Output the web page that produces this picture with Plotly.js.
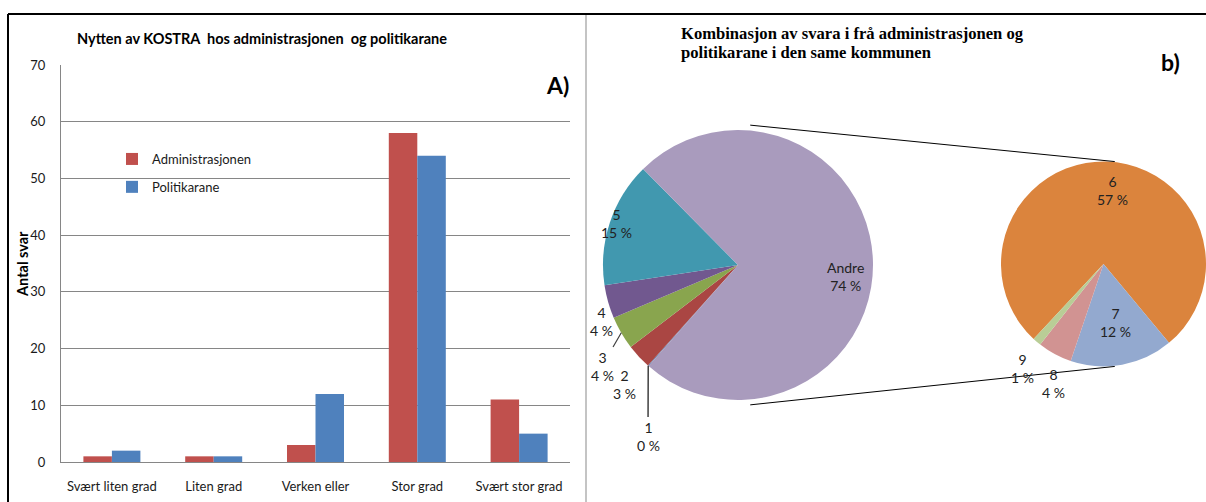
<!DOCTYPE html>
<html>
<head>
<meta charset="utf-8">
<script src="https://cdn.plot.ly/plotly-3.0.1.min.js"></script>
<style>
  html, body { margin: 0; padding: 0; background: #fff; }
  #chart { width: 1206px; height: 502px; }
</style>
</head>
<body>
<div id="chart"></div>
<script>
// ---- Data ----
const categories = ['Svært liten grad', 'Liten grad', 'Verken eller', 'Stor grad', 'Svært stor grad'];
const adminValues = [1, 1, 3, 58, 11];
const politikValues = [2, 1, 12, 54, 5];
const seriesNames = ['Administrasjonen', 'Politikarane'];

const pieLabels = ['1', '2', '3', '4', '5', 'Andre'];
const pieValues = [0.1, 3, 4, 4, 15, 74];
const subLabels = ['6', '7', '8', '9'];
const subValues = [57, 12, 4, 1];

const leftTitle = 'Nytten av KOSTRA  hos administrasjonen  og politikarane';
const rightTitleLines = ['Kombinasjon av svara i frå administrasjonen og', 'politikarane i den same kommunen'];
const yTitle = 'Antal svar';

// ---- Geometry helpers (page is 1206 x 502) ----
const W = 1206, H = 502;
const px = x => x / W;
const py = y => (H - y) / H;

const font = 'Lato, "Open Sans", sans-serif';
const serif = '"Liberation Serif", "DejaVu Serif", serif';
const labelColor = '#222';

// pie placement (pixels)
const big = { cx: 738, cy: 265, r: 135, rot: 221.5 };
const small = { cx: 1104, cy: 264, r: 103, rot: 223 };
const dom = p => ({ x: [px(p.cx - p.r), px(p.cx + p.r)], y: [py(p.cy + p.r), py(p.cy - p.r)] });
const edge = (p, deg, f) => {
  const a = deg * Math.PI / 180, rr = p.r * (f === undefined ? 1 : f);
  return [p.cx + rr * Math.sin(a), p.cy - rr * Math.cos(a)];
};
// start angle of each slice (clockwise from 12 o'clock)
function sliceAngles(p, vals) {
  const tot = vals.reduce((a, b) => a + b, 0);
  let cur = p.rot; const out = [];
  vals.forEach(v => { const span = v / tot * 360; out.push({ a0: cur, a1: cur + span, mid: cur + span / 2 }); cur += span; });
  return out;
}

// label placement (pixels) for pie data labels, layout only
const bigLabelPos = [[648, 436], [624, 384], [602, 366], [601, 321], [616, 223], [845, 276]];
const smallLabelPos = [[1112, 190], [1115, 322], [1053, 383], [1022, 368]];

const traces = [
  {
    type: 'bar', x: categories, y: adminValues, name: seriesNames[0],
    marker: { color: '#C0504D' }, legendgroup: 'a', xaxis: 'x', yaxis: 'y'
  },
  {
    type: 'bar', x: categories, y: politikValues, name: seriesNames[1],
    marker: { color: '#4F81BD' }, legendgroup: 'b', xaxis: 'x', yaxis: 'y'
  },
  {
    type: 'pie', labels: pieLabels, values: pieValues, sort: false,
    direction: 'clockwise', rotation: big.rot, showlegend: false,
    domain: dom(big),
    marker: { colors: ['#4572A7', '#AA4643', '#89A54E', '#71588F', '#4198AF', '#A99BBD'] },
    textinfo: 'none', hoverinfo: 'label+value'
  },
  {
    type: 'pie', labels: subLabels, values: subValues, sort: false,
    direction: 'clockwise', rotation: small.rot, showlegend: false,
    domain: dom(small),
    marker: { colors: ['#DB843D', '#93A9CF', '#D19392', '#B9CD96'] },
    textinfo: 'none', hoverinfo: 'label+value'
  }
];

const fmt = v => Math.round(v) + ' %';
const annotations = [
  { text: '<b>' + leftTitle + '</b>', xref: 'paper', yref: 'paper',
    x: px(75), y: py(38), xanchor: 'left', yanchor: 'middle', showarrow: false,
    font: { family: font, size: 14.5, color: '#000' } },
  { text: '<b>A)</b>', xref: 'paper', yref: 'paper',
    x: px(571), y: py(85), xanchor: 'right', yanchor: 'middle', showarrow: false,
    font: { family: font, size: 23, color: '#000' } },
  { text: '<b>b)</b>', xref: 'paper', yref: 'paper',
    x: px(1170), y: py(62), xanchor: 'center', yanchor: 'middle', showarrow: false,
    font: { family: font, size: 23, color: '#000' } },
  { text: '<b>' + yTitle + '</b>', xref: 'paper', yref: 'paper', textangle: -90,
    x: px(22), y: py(264), xanchor: 'center', yanchor: 'middle', showarrow: false,
    font: { family: font, size: 14.5, color: '#000' } }
];
rightTitleLines.forEach((t, i) => annotations.push({
  text: '<b>' + t + '</b>', xref: 'paper', yref: 'paper',
  x: px(679), y: py(33 + i * 19), xanchor: 'left', yanchor: 'middle', showarrow: false,
  font: { family: serif, size: 16.6, color: '#000' }
}));

const bigAng = sliceAngles(big, pieValues);
pieLabels.forEach((lab, i) => {
  const pos = bigLabelPos[i];
  const a = { text: lab + '<br>' + fmt(pieValues[i]), xref: 'paper', yref: 'paper',
    font: { family: font, size: 14, color: labelColor }, align: 'center' };
  if (i === 0) {
    // leader line from slice edge down to its label
    const e = edge(big, bigAng[i].mid);
    Object.assign(a, { x: px(e[0]), y: py(e[1]), showarrow: true, arrowhead: 0, arrowwidth: 1.5,
      arrowcolor: '#404040', ax: pos[0] - e[0], ay: pos[1] - e[1], standoff: 0, startstandoff: 0 });
  } else if (i === 2) {
    const e = edge(big, bigAng[i].mid, 1.0);
    Object.assign(a, { x: px(e[0]), y: py(e[1]), showarrow: true, arrowhead: 0, arrowwidth: 1.2,
      arrowcolor: '#404040', ax: pos[0] - e[0], ay: pos[1] - e[1], standoff: 0 });
  } else {
    Object.assign(a, { x: px(pos[0]), y: py(pos[1]), xanchor: 'center', yanchor: 'middle', showarrow: false });
  }
  annotations.push(a);
});
subLabels.forEach((lab, i) => {
  const pos = smallLabelPos[i];
  annotations.push({ text: lab + '<br>' + fmt(subValues[i]), xref: 'paper', yref: 'paper',
    x: px(pos[0]), y: py(pos[1]), xanchor: 'center', yanchor: 'middle', showarrow: false, align: 'center',
    font: { family: font, size: 14, color: labelColor } });
});

const t1 = edge(big, 5, 1.04), t2 = edge(small, 6);
const b1 = edge(big, 175, 1.04), b2 = edge(small, 174);

const layout = {
  width: W, height: H,
  margin: { l: 0, r: 0, t: 0, b: 0 },
  paper_bgcolor: '#fff', plot_bgcolor: '#fff',
  font: { family: font, size: 13, color: '#1a1a1a' },
  barmode: 'group', bargap: 0.44, bargroupgap: 0,
  xaxis: {
    domain: [px(61), px(570)], automargin: false,
    showgrid: false, showline: true, linecolor: '#868686', linewidth: 1,
    ticks: '', ticklabelstandoff: 12, tickfont: { size: 13, color: '#1a1a1a' }
  },
  yaxis: {
    domain: [py(462), py(65)], range: [0, 70], dtick: 10, automargin: false,
    showgrid: true, gridcolor: '#868686', gridwidth: 1,
    showline: true, linecolor: '#868686', linewidth: 1, zeroline: false,
    ticks: '', ticklabelstandoff: 12, tickfont: { size: 13, color: '#1a1a1a' }
  },
  showlegend: true,
  legend: {
    x: px(112), y: py(144), xanchor: 'left', yanchor: 'top',
    bgcolor: 'rgba(0,0,0,0)', font: { size: 13, color: '#1a1a1a' },
    traceorder: 'grouped', tracegroupgap: 8, itemwidth: 30
  },
  annotations: annotations,
  shapes: [
    { type: 'line', xref: 'paper', yref: 'paper', x0: px(8), x1: px(1206), y0: py(14), y1: py(14),
      line: { color: '#000', width: 2 } },
    { type: 'line', xref: 'paper', yref: 'paper', x0: px(8), x1: px(8), y0: py(14), y1: py(502),
      line: { color: '#000', width: 2 } },
    { type: 'line', xref: 'paper', yref: 'paper', x0: px(586), x1: px(586), y0: py(15), y1: py(502),
      line: { color: '#B0B0B0', width: 1.5 } },
    { type: 'line', xref: 'paper', yref: 'paper', x0: px(t1[0]), x1: px(t2[0]), y0: py(t1[1]), y1: py(t2[1]),
      line: { color: '#000', width: 1 } },
    { type: 'line', xref: 'paper', yref: 'paper', x0: px(b1[0]), x1: px(b2[0]), y0: py(b1[1]), y1: py(b2[1]),
      line: { color: '#000', width: 1 } }
  ]
};

Plotly.newPlot('chart', traces, layout, { displayModeBar: false, staticPlot: true });
</script>
</body>
</html>
